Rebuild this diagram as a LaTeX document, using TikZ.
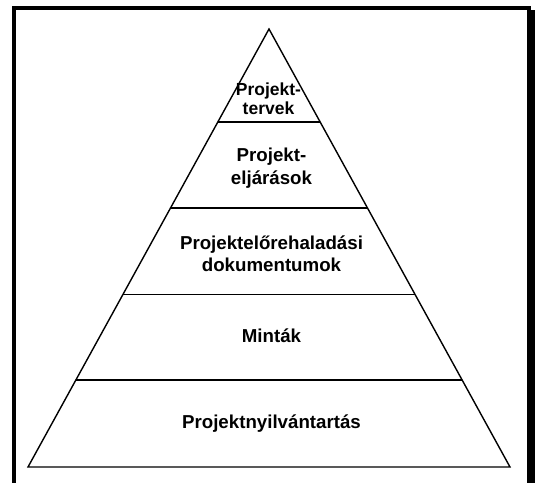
\documentclass[tikz,border=0pt]{standalone}
\usepackage{fontspec}
\setmainfont{Liberation Sans}
\usetikzlibrary{calc}
\begin{document}
\begin{tikzpicture}[x=1pt,y=-1pt,
  frame/.style={fill=black,draw=none},
  edge/.style={draw=black,line width=1.4pt},
  label/.style={font=\bfseries\fontsize{18.7}{22}\selectfont,inner sep=0pt,anchor=base},
  smalllabel/.style={label,font=\bfseries\fontsize{17.5}{20}\selectfont}]
  \useasboundingbox (0,0) rectangle (539,483);
  % page frame with heavier right edge
  \fill[frame] (12,6) rectangle (531,9.5);
  \fill[frame] (12,6) rectangle (16,483);
  \fill[frame] (527,10) rectangle (535,483);
  % pyramid outline
  \coordinate (apex) at (269,29);
  \coordinate (bl) at (28,467);
  \coordinate (br) at (510,467);
  \draw[edge,line join=miter] (apex) -- (bl) -- (br) -- cycle;
  % tier separators
  \foreach \t/\n in {0.2123/a,0.4087/b,0.6062/c,0.8014/d}{
    \coordinate (l\n) at ($(apex)!\t!(bl)$);
    \coordinate (r\n) at ($(apex)!\t!(br)$);
    \draw[edge] (l\n) -- (r\n);
  }
  % tier labels
  \node[smalllabel] (t1a) at (268.5,95.5) {Projekt-};
  \node[smalllabel] (t1b) at (268.5,114) {tervek};
  \node[label] (t2a) at (271.5,161.5) {Projekt-};
  \node[label] (t2b) at (271.5,184) {eljárások};
  \node[label] (t3a) at (271.5,249) {Projektelőrehaladási};
  \node[label] (t3b) at (271.5,271) {dokumentumok};
  \node[label] (t4) at (271.5,342) {Minták};
  \node[label] (t5) at (271.5,428.3) {Projektnyilvántartás};
\end{tikzpicture}
\end{document}
